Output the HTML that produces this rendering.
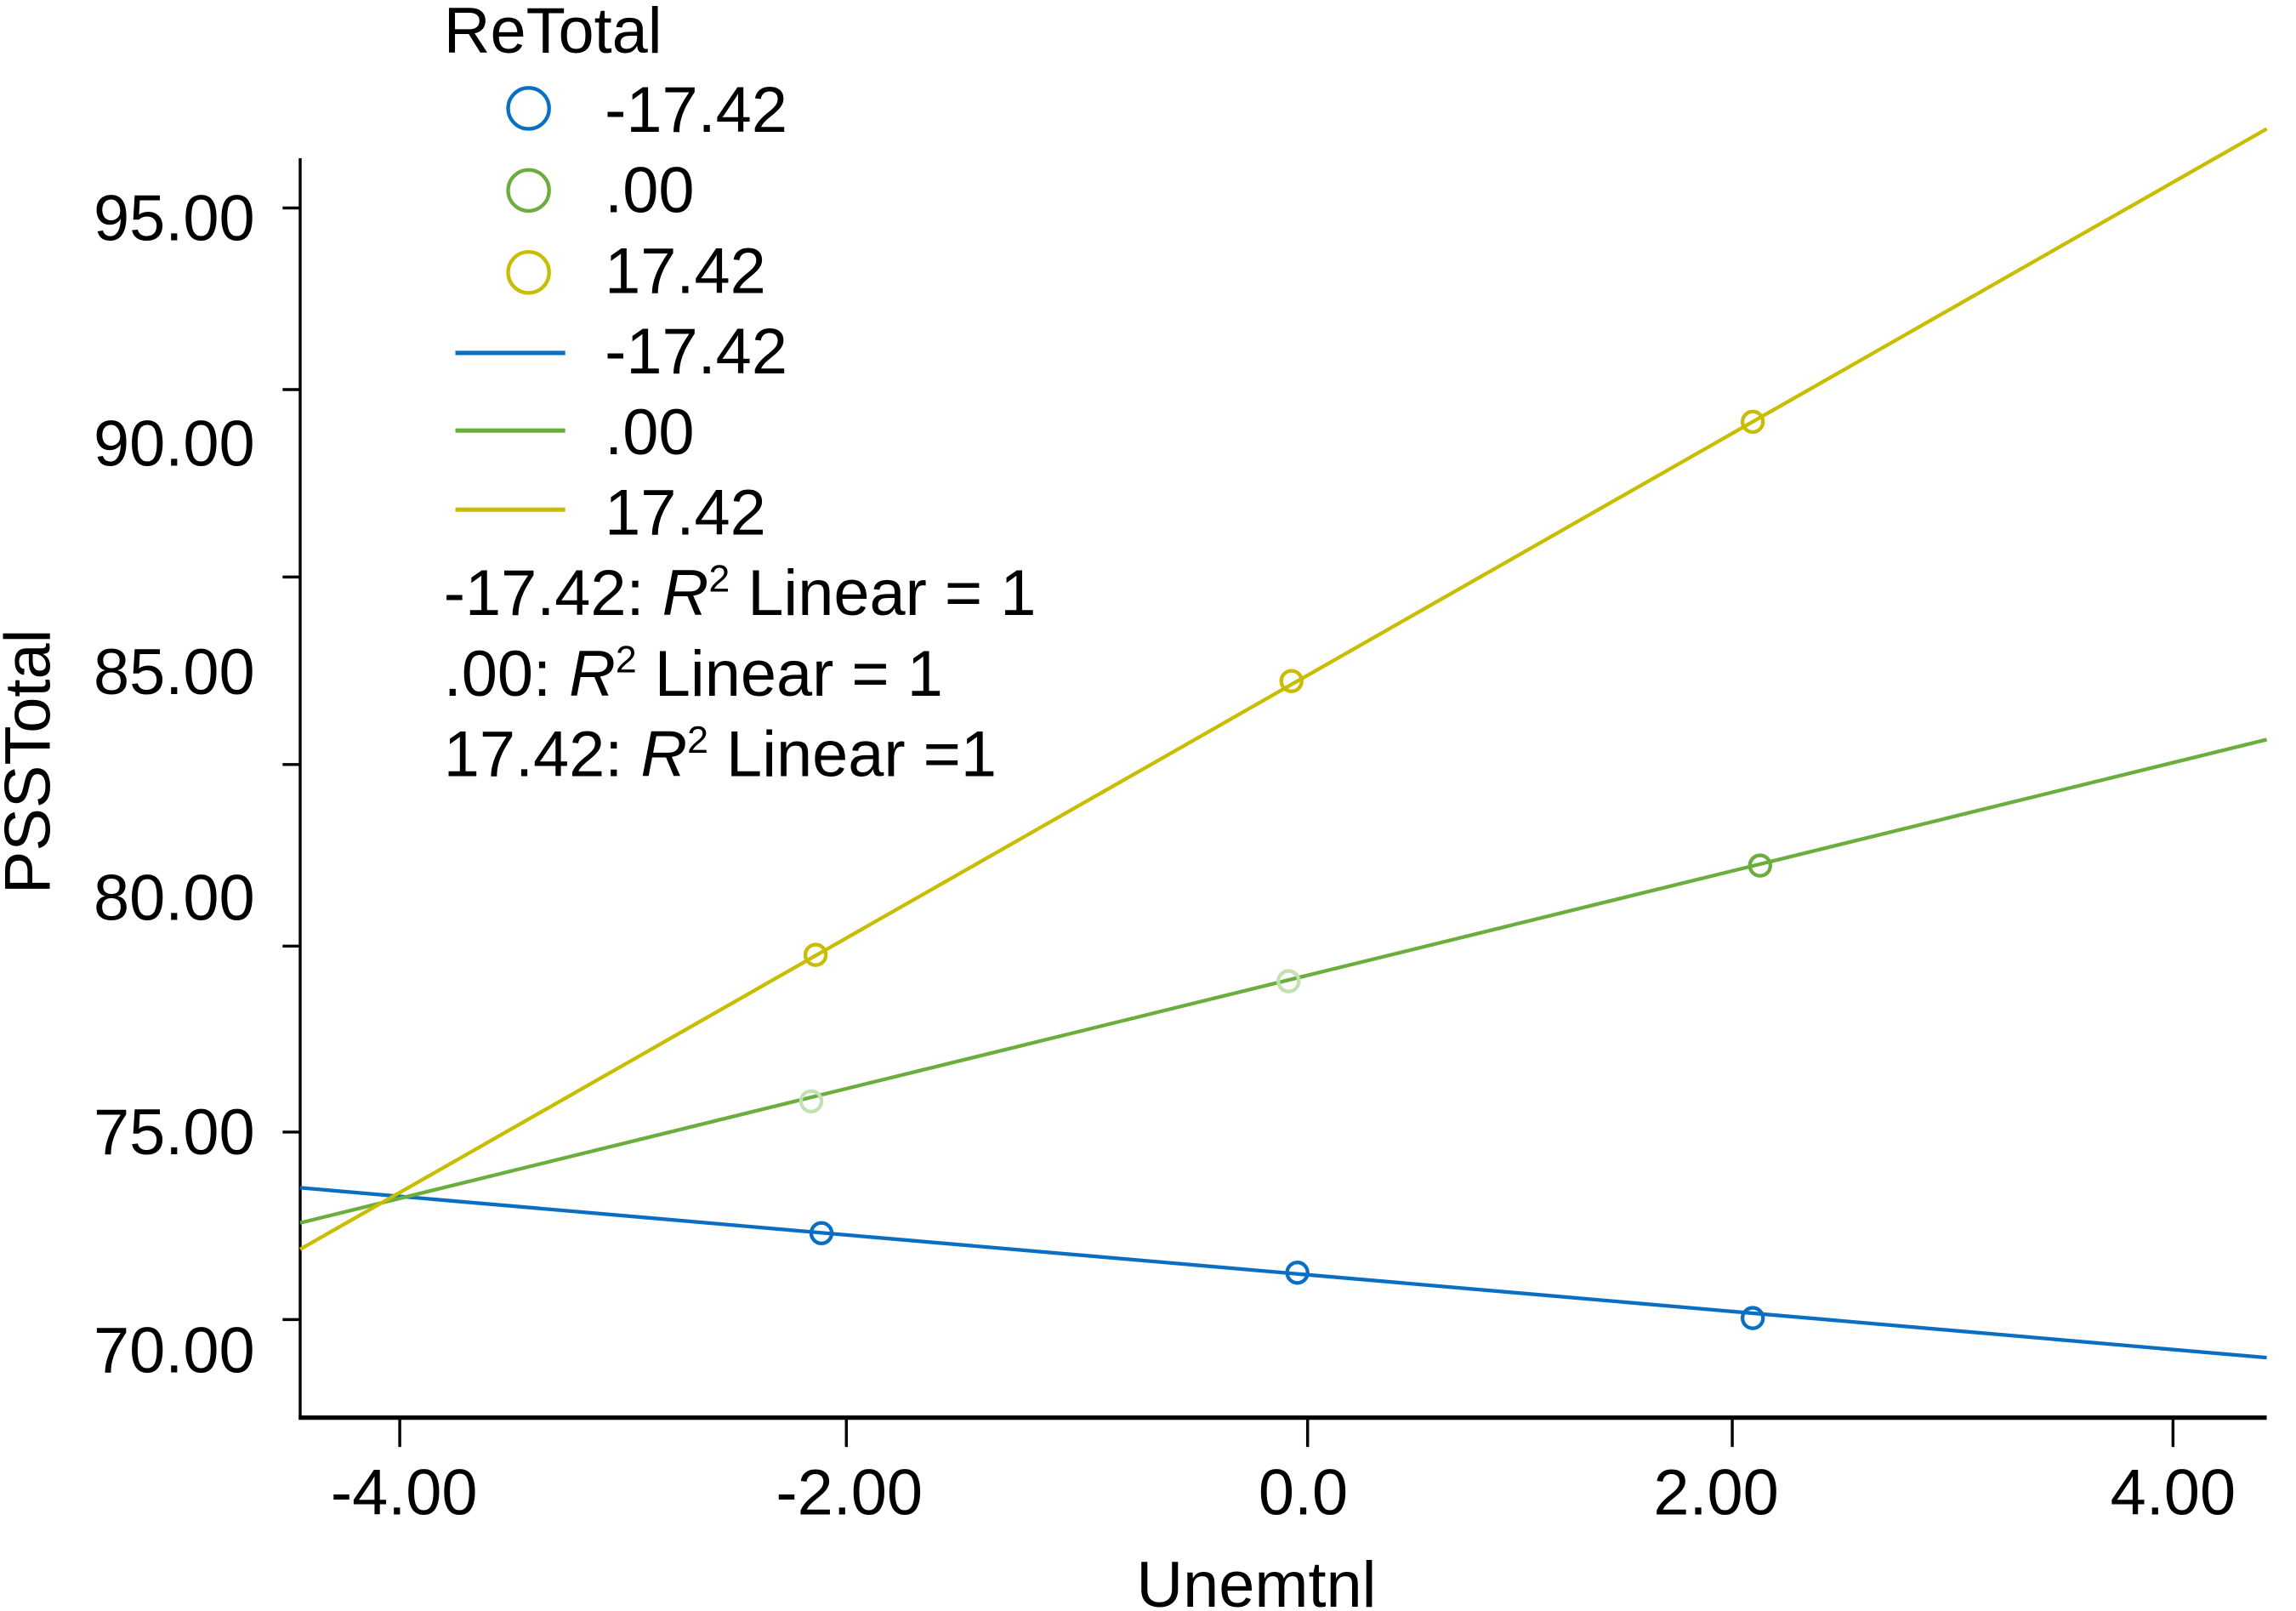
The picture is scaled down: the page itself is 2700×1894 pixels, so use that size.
<!DOCTYPE html>
<html><head><meta charset="utf-8"><style>
html,body{margin:0;padding:0;background:#fff;}
svg{display:block;}
text{font-family:"Liberation Sans",sans-serif;fill:#000;}
</style></head><body>
<svg width="2700" height="1894" viewBox="0 0 1568 1100" preserveAspectRatio="none" xmlns="http://www.w3.org/2000/svg">
<g stroke="#000" stroke-width="2" fill="none">
<line x1="205" y1="108" x2="205" y2="969"/>
<line x1="204" y1="968" x2="1548" y2="968" stroke-width="3"/>
<line x1="193" y1="142" x2="205" y2="142"/>
<line x1="193" y1="266" x2="205" y2="266"/>
<line x1="193" y1="394" x2="205" y2="394"/>
<line x1="193" y1="522" x2="205" y2="522"/>
<line x1="193" y1="646" x2="205" y2="646"/>
<line x1="193" y1="773" x2="205" y2="773"/>
<line x1="193" y1="901" x2="205" y2="901"/>
<line x1="273" y1="968" x2="273" y2="988"/>
<line x1="578" y1="968" x2="578" y2="988"/>
<line x1="893" y1="968" x2="893" y2="988"/>
<line x1="1183" y1="968" x2="1183" y2="988"/>
<line x1="1484" y1="968" x2="1484" y2="988"/>
</g>
<g font-size="44" text-anchor="end">
<text x="174" y="164">95.00</text>
<text x="174" y="318">90.00</text>
<text x="174" y="474">85.00</text>
<text x="174" y="628">80.00</text>
<text x="174" y="788">75.00</text>
<text x="174" y="937">70.00</text>
</g>
<g font-size="44" text-anchor="middle">
<text x="276" y="1034">-4.00</text>
<text x="580" y="1034">-2.00</text>
<text x="890" y="1034">0.0</text>
<text x="1172" y="1034">2.00</text>
<text x="1484" y="1034">4.00</text>
<text x="858" y="1097">Unemtnl</text>
<text transform="translate(34,520) rotate(-90)">PSSTotal</text>
</g>
<g stroke-width="2.5" fill="none">
<line x1="205" y1="811" x2="1548" y2="927" stroke="#0a6fc2"/>
<line x1="205" y1="835" x2="1548" y2="505" stroke="#6aae3e"/>
<line x1="205" y1="853" x2="1548" y2="88" stroke="#c8bd00"/>
<circle cx="561" cy="842" r="7" stroke="#0a6fc2"/>
<circle cx="886" cy="869" r="7" stroke="#0a6fc2"/>
<circle cx="1197" cy="900" r="7" stroke="#0a6fc2"/>
<circle cx="554" cy="752" r="7" stroke="#c2e0b2"/>
<circle cx="880" cy="670" r="7" stroke="#c2e0b2"/>
<circle cx="1202" cy="591" r="7" stroke="#6aae3e"/>
<circle cx="557" cy="652" r="7" stroke="#c8bd00"/>
<circle cx="882" cy="465" r="7" stroke="#c8bd00"/>
<circle cx="1197" cy="288" r="7" stroke="#c8bd00"/>
<circle cx="361" cy="74" r="14" stroke="#0a6fc2"/>
<circle cx="361" cy="130" r="14" stroke="#6aae3e"/>
<circle cx="361" cy="186" r="14" stroke="#c8bd00"/>
<line x1="311" y1="241" x2="386" y2="241" stroke="#0a6fc2" stroke-width="3"/>
<line x1="311" y1="294" x2="386" y2="294" stroke="#6aae3e" stroke-width="3"/>
<line x1="311" y1="348" x2="386" y2="348" stroke="#c8bd00" stroke-width="3"/>
</g>
<g font-size="44">
<text x="303" y="36">ReTotal</text>
<text x="413" y="90">-17.42</text>
<text x="413" y="145">.00</text>
<text x="413" y="200">17.42</text>
<text x="413" y="255">-17.42</text>
<text x="413" y="310">.00</text>
<text x="413" y="365">17.42</text>
<text x="303" y="420">-17.42: <tspan font-style="italic">R</tspan><tspan font-size="26" dy="-16">2</tspan><tspan dy="16"> Linear = 1</tspan></text>
<text x="303" y="475">.00: <tspan font-style="italic">R</tspan><tspan font-size="26" dy="-16">2</tspan><tspan dy="16"> Linear = 1</tspan></text>
<text x="303" y="530">17.42: <tspan font-style="italic">R</tspan><tspan font-size="26" dy="-16">2</tspan><tspan dy="16"> Linear =1</tspan></text>
</g>
</svg>
</body></html>
